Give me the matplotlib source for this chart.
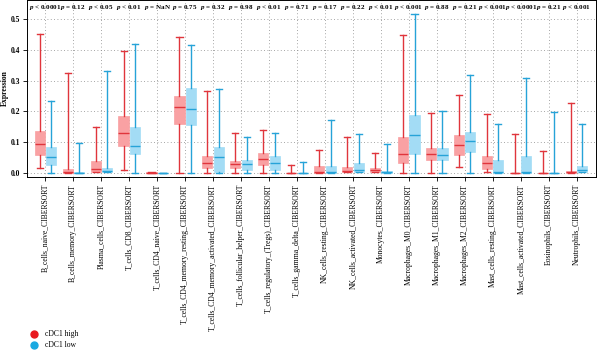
import matplotlib
matplotlib.use("Agg")
import matplotlib.pyplot as plt
from matplotlib.lines import Line2D

categories = ["B_cells_naive_CIBERSORT", "B_cells_memory_CIBERSORT", "Plasma_cells_CIBERSORT",
              "T_cells_CD8_CIBERSORT", "T_cells_CD4_naive_CIBERSORT",
              "T_cells_CD4_memory_resting_CIBERSORT", "T_cells_CD4_memory_activated_CIBERSORT",
              "T_cells_follicular_helper_CIBERSORT", "T_cells_regulatory_(Tregs)_CIBERSORT",
              "T_cells_gamma_delta_CIBERSORT", "NK_cells_resting_CIBERSORT",
              "NK_cells_activated_CIBERSORT", "Monocytes_CIBERSORT", "Macrophages_M0_CIBERSORT",
              "Macrophages_M1_CIBERSORT", "Macrophages_M2_CIBERSORT", "Mast_cells_resting_CIBERSORT",
              "Mast_cells_activated_CIBERSORT", "Eosinophils_CIBERSORT", "Neutrophils_CIBERSORT"]
pvals = ["< 0.0001", "= 0.12", "< 0.05", "< 0.01", "= NaN", "= 0.75", "= 0.32", "= 0.98",
         "< 0.01", "= 0.71", "= 0.17", "= 0.22", "< 0.01", "< 0.001", "= 0.88", "= 0.21",
         "< 0.001", "< 0.0001", "= 0.21", "< 0.001"]

# cDC1 high
high_lo  = [0.016, 0.0, 0.002, 0.009, 0.0, 0.0, 0.0, 0.0, 0.0, 0.0, 0.0, 0.002, 0.002, 0.0, 0.0, 0.019, 0.002, 0.0, 0.0, 0.0]
high_q1  = [0.058, 0.0, 0.002, 0.089, 0.0, 0.159, 0.016, 0.016, 0.027, 0.0, 0.0, 0.002, 0.002, 0.032, 0.044, 0.058, 0.014, 0.0, 0.0, 0.0]
high_med = [0.095, 0.004, 0.012, 0.129, 0.001, 0.216, 0.034, 0.029, 0.046, 0.0, 0.002, 0.006, 0.009, 0.062, 0.062, 0.091, 0.033, 0.0, 0.0, 0.003]
high_q3  = [0.137, 0.014, 0.040, 0.185, 0.003, 0.249, 0.054, 0.038, 0.065, 0.001, 0.023, 0.019, 0.016, 0.118, 0.082, 0.125, 0.057, 0.001, 0.001, 0.006]
high_hi  = [0.452, 0.326, 0.150, 0.396, 0.003, 0.441, 0.266, 0.129, 0.141, 0.027, 0.074, 0.116, 0.065, 0.448, 0.194, 0.255, 0.191, 0.126, 0.072, 0.228]

# cDC1 low
low_lo  = [0.0, 0.0, 0.002, 0.0, 0.0, 0.0, 0.0, 0.0, 0.0, 0.0, 0.0, 0.002, 0.0, 0.0, 0.0, 0.0, 0.0, 0.0, 0.0, 0.003]
low_q1  = [0.026, 0.0, 0.002, 0.061, 0.0, 0.157, 0.004, 0.009, 0.011, 0.0, 0.0, 0.002, 0.0, 0.061, 0.044, 0.068, 0.001, 0.001, 0.0, 0.003]
low_med = [0.052, 0.001, 0.007, 0.089, 0.0, 0.207, 0.052, 0.029, 0.033, 0.0, 0.002, 0.011, 0.002, 0.123, 0.060, 0.103, 0.005, 0.004, 0.0, 0.011]
low_q3  = [0.086, 0.002, 0.016, 0.148, 0.001, 0.275, 0.086, 0.042, 0.054, 0.001, 0.024, 0.032, 0.006, 0.187, 0.082, 0.132, 0.041, 0.057, 0.001, 0.022]
low_hi  = [0.233, 0.099, 0.330, 0.419, 0.001, 0.417, 0.272, 0.118, 0.129, 0.035, 0.172, 0.127, 0.095, 0.516, 0.203, 0.318, 0.159, 0.310, 0.197, 0.159]

plt.rcParams['font.family'] = ['Liberation Serif', 'DejaVu Serif']
plt.rcParams['mathtext.fontset'] = 'custom'
plt.rcParams['mathtext.it'] = 'Liberation Serif:italic:bold'
plt.rcParams['mathtext.rm'] = 'Liberation Serif:bold'

RED_FACE, RED_LINE = "#F9A1A3", "#E0353C"
BLUE_FACE, BLUE_LINE = "#A3DCF5", "#26A3D8"

fig = plt.figure(figsize=(6.0, 3.52), dpi=100)
ax = fig.add_axes([0.045, 0.497, 0.948, 0.503])

def stats(lo, q1, med, q3, hi):
    return [dict(whislo=a, q1=b, med=c, q3=d, whishi=e, fliers=[]) for a, b, c, d, e in zip(lo, q1, med, q3, hi)]

n = len(categories)
pos = list(range(n))
off = 0.2
w = 0.36
for st, shift, face, line in [(stats(high_lo, high_q1, high_med, high_q3, high_hi), -off, RED_FACE, RED_LINE),
                              (stats(low_lo, low_q1, low_med, low_q3, low_hi), off, BLUE_FACE, BLUE_LINE)]:
    ax.bxp(st, positions=[p + shift for p in pos], widths=w, patch_artist=True, showfliers=False,
           boxprops=dict(facecolor=face, edgecolor=face, linewidth=0.5),
           medianprops=dict(color=line, linewidth=1.0),
           whiskerprops=dict(color=line, linewidth=1.0),
           capprops=dict(color=line, linewidth=1.0), capwidths=w * 0.6,
           manage_ticks=False, zorder=3)

ax.set_xlim(-0.65, n - 1 + 0.68)
ax.set_ylim(-0.013, 0.562)
ax.set_xticks(pos)
ax.set_xticklabels(categories, rotation=90, fontsize=5.5)
ax.set_yticks([0.0, 0.1, 0.2, 0.3, 0.4, 0.5])
ax.set_yticklabels(["0.0", "0.1", "0.2", "0.3", "0.4", "0.5"], fontsize=5.5, fontweight='bold')
ax.tick_params(axis='both', direction='out', length=3, width=0.6, pad=2)
ax.grid(True, linestyle=(0, (1, 3)), color="#888888", linewidth=0.6, zorder=0)
ax.set_axisbelow(True)
for s in ax.spines.values():
    s.set_linewidth(0.7)
ax.set_ylabel("Expression", fontsize=5.5, fontweight='bold', labelpad=1.5)

for i, t in enumerate(pvals):
    ax.text(i, 0.539, r"$p$ " + t, ha='center', va='center', fontsize=5.0, fontweight='bold')

handles = [Line2D([], [], marker='o', linestyle='', color="#E8191F", markersize=5),
           Line2D([], [], marker='o', linestyle='', color="#1AA9E1", markersize=5)]
fig.legend(handles, ["cDC1 high", "cDC1 low"], loc='lower left', bbox_to_anchor=(0.035, -0.008),
           frameon=False, fontsize=5.5, handletextpad=0.4, labelspacing=0.4, borderpad=0.2)

fig.savefig("out.png", dpi=100)
